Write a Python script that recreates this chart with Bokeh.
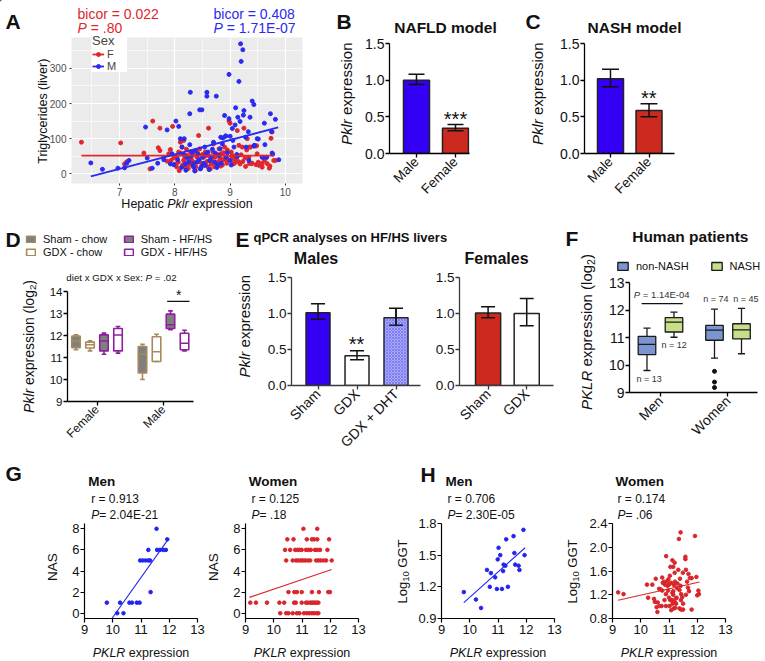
import math
from bokeh.plotting import figure
from bokeh.layouts import row, column
from bokeh.models import (Label, Range1d, FixedTicker, SingleIntervalTicker,
                          Legend, LegendItem, PrintfTickFormatter)
from bokeh.embed import file_html
from bokeh.resources import INLINE
from bokeh.core.validation import silence
from bokeh.core.validation.warnings import MISSING_RENDERERS

silence(MISSING_RENDERERS, True)

FONT = "Liberation Sans"
INK = "#111111"
DY = -3  # baseline calibration (px)

# ---------------------------------------------------------------- data
# Panel A : hepatic Pklr vs liver triglycerides (F = red, M = blue)
a_f_x = [6.31, 7.02, 7.09, 7.13, 7.44, 7.6, 7.73, 7.96, 7.7, 7.73, 7.55, 7.8, 7.86, 7.89, 7.92, 7.93,
         8.01, 8.04, 8.07, 8.1, 8.08, 8.13, 8.16, 8.16, 8.19, 8.22, 8.25, 8.28, 8.31, 8.37, 8.4, 8.43,
         8.45, 8.49, 8.52, 8.55, 8.57, 8.61, 8.64, 8.67, 8.69, 8.7, 8.73, 8.75, 8.8, 8.83, 8.84, 8.87,
         8.9, 8.92, 8.95, 8.98, 9.0, 9.02, 9.05, 9.07, 9.1, 9.13, 9.16, 9.18, 9.2, 9.22, 9.25, 9.28,
         9.3, 9.31, 9.34, 9.37, 9.4, 9.46, 9.49, 9.52, 9.55, 9.58, 9.62, 9.66, 9.72, 9.74, 9.76, 9.79,
         9.82, 9.71, 7.98, 8.03, 8.06, 8.11, 8.14, 8.18, 8.21, 8.24, 8.27, 8.3, 8.33, 8.35, 8.38, 8.41,
         8.44, 8.47, 8.5, 8.53, 8.58, 8.6, 8.63, 8.66, 8.72, 8.77, 8.79, 8.82, 8.86, 8.88, 8.94, 8.97,
         9.03, 9.08, 9.11, 9.15, 9.23, 9.27, 9.35, 9.39, 9.43, 9.47, 9.51, 9.58, 9.67, 9.35, 9.04, 8.91,
         9.48, 9.07]
a_f_y = [90, 88, 28, 34, 59, 150, 130, 135, 74, 66, 14, 47, 36, 57, 69, 38,
         28, 47, 62, 90, 9, 76, 95, 38, 19, 52, 28, 62, 38, 9, 47, 109,
         71, 28, 47, 62, 52, 130, 14, 38, 62, 85, 47, 28, 71, 22, 57, 40,
         76, 47, 68, 150, 144, 62, 28, 43, 38, 123, 81, 28, 54, 76, 130, 21,
         68, 100, 47, 76, 30, 79, 57, 24, 28, 19, 38, 47, 22, 101, 119, 38,
         38, 16, 45, 20, 33, 58, 25, 44, 70, 15, 45, 25, 55, 32, 20, 60,
         35, 15, 55, 25, 35, 20, 50, 28, 20, 55, 35, 45, 25, 60, 30, 40,
         50, 30, 45, 35, 35, 45, 76, 29, 80, 26, 33, 29, 29, 29, 52, 40,
         80, 31]
a_m_x = [6.48, 6.69, 6.97, 7.09, 7.13, 7.17, 7.47, 7.5, 7.59, 7.69, 7.8, 7.86, 7.92, 7.95, 8.02, 8.07,
         7.98, 8.1, 8.13, 8.17, 8.19, 8.22, 8.27, 8.27, 8.28, 8.31, 8.34, 8.37, 8.4, 8.45, 8.49, 8.46,
         8.5, 8.54, 8.55, 8.58, 8.58, 8.6, 8.63, 8.7, 8.75, 8.73, 8.78, 8.82, 8.87, 8.9, 8.93, 8.98,
         8.98, 9.0, 9.04, 9.07, 9.1, 9.13, 9.14, 9.16, 9.19, 9.2, 9.23, 9.25, 9.28, 9.34, 9.4, 9.43,
         9.44, 9.49, 9.61, 9.63, 9.73, 9.76, 9.82, 9.88, 8.05, 8.12, 8.16, 8.2, 8.25, 8.3, 8.33, 8.36,
         8.42, 8.44, 8.48, 8.52, 8.56, 8.62, 8.66, 8.68, 8.72, 8.76, 8.8, 8.84, 8.86, 8.92, 8.95, 9.02,
         9.05, 9.09, 9.12, 9.18, 9.24, 9.29, 9.33, 9.36, 9.43, 9.51, 9.58, 9.62, 9.66, 9.75, 9.77, 8.83,
         8.92, 9.0]
a_m_y = [31, 13, 16, 17, 30, 38, 133, 45, 16, 30, 40, 125, 28, 57, 150, 135,
         26, 100, 76, 100, 28, 47, 83, 171, 232, 62, 19, 66, 33, 182, 182, 14,
         47, 76, 24, 232, 221, 62, 38, 90, 221, 59, 26, 71, 102, 166, 47, 157,
         283, 38, 129, 76, 188, 49, 161, 263, 370, 320, 353, 180, 104, 38, 207, 197,
         81, 100, 47, 83, 171, 59, 155, 40, 40, 18, 55, 10, 35, 50, 28, 8,
         55, 40, 20, 30, 55, 12, 48, 70, 33, 18, 52, 30, 85, 108, 60, 25,
         95, 139, 55, 149, 167, 76, 120, 161, 79, 99, 47, 144, 47, 120, 56, 104,
         107, 107]
a_f_fit_x = [6.31, 9.79]
a_f_fit_y = [52, 52]
a_m_fit_x = [6.48, 9.87]
a_m_fit_y = [-7, 132]

# Panel B / C : Pklr expression, Male vs Female
bc_groups = ["Male", "Female"]
b_mean = [1.0, 0.345]
b_lo = [0.94, 0.31]
b_hi = [1.08, 0.395]
c_mean = [1.02, 0.585]
c_lo = [0.91, 0.50]
c_hi = [1.15, 0.68]

# Panel D : box plots (per group: [Female, Male])
d_cats = ["Female", "Male"]
d_groups = ["Sham - chow", "GDX - chow", "Sham - HF/HS", "GDX - HF/HS"]
d_lo = [[11.35, 10.0], [11.3, 10.82], [11.15, 12.26], [11.2, 11.3]]
d_q1 = [[11.45, 10.3], [11.43, 10.82], [11.3, 12.32], [11.3, 11.35]]
d_med = [[11.75, 11.15], [11.58, 11.26], [11.75, 12.49], [12.02, 11.65]]
d_q3 = [[11.97, 11.5], [11.7, 11.94], [12.03, 12.97], [12.32, 12.1]]
d_hi = [[12.03, 11.6], [11.76, 12.06], [12.11, 13.12], [12.41, 12.24]]
d_sig_y = 13.55

# Panel E : qPCR on HF/HS livers
e_m_groups = ["Sham", "GDX", "GDX + DHT"]
e_m_mean = [1.01, 0.414, 0.942]
e_m_lo = [0.92, 0.359, 0.837]
e_m_hi = [1.135, 0.483, 1.072]
e_f_groups = ["Sham", "GDX"]
e_f_mean = [1.007, 1.0]
e_f_lo = [0.942, 0.83]
e_f_hi = [1.094, 1.21]

# Panel F : human patients (per group: [Men, Women])
f_cats = ["Men", "Women"]
f_groups = ["non-NASH", "NASH"]
f_lo = [[9.8, 10.25], [11.01, 10.41]]
f_q1 = [[10.38, 10.9], [11.2, 10.95]]
f_med = [[10.75, 11.27], [11.56, 11.28]]
f_q3 = [[11.04, 11.44], [11.72, 11.5]]
f_hi = [[11.34, 12.03], [11.92, 12.06]]
f_out_y = [9.77, 9.38, 9.18]
f_sig_y = 12.23

# Panel G : NAS vs PKLR
g_m_x = [9.79, 10.16, 10.26, 10.38, 10.59, 10.68, 10.85, 10.95, 10.97, 11.06, 11.16, 11.26, 11.32,
         11.26, 11.34, 11.55, 11.57, 11.67, 11.79, 11.88, 11.93]
g_m_y = [1, 0, 1, 0, 1, 1, 1, 1, 5, 5, 5, 5, 5, 6, 2, 8, 6, 6, 6, 6, 7]
g_m_fit_x = [9.97, 11.96]
g_m_fit_y = [-0.5, 7.0]
g_w_x = [11.05, 11.54,
         10.48, 10.7, 11.17, 11.35, 11.43, 11.54, 11.96,
         10.4, 10.58, 10.76, 10.84, 10.91, 10.99, 11.14, 11.23, 11.31, 11.46, 11.54, 11.64, 11.9,
         10.44, 10.67, 10.79, 10.87, 10.96, 11.03, 11.11, 11.2, 11.29, 11.5, 11.58, 11.66, 11.76, 11.85, 12.05,
         10.52, 10.73, 10.82, 10.99, 11.35, 11.6, 11.93, 11.99,
         9.17, 9.37, 9.76, 10.2, 10.37, 10.72, 10.78, 10.99, 11.14, 11.2, 11.29, 11.35, 11.4, 11.46, 11.52, 11.58,
         10.23, 10.44, 10.52, 10.67, 10.82, 10.91, 11.07, 11.17, 11.26, 11.35, 11.43, 11.52, 11.58]
g_w_y = [8, 8,
         7, 7, 7, 7, 7, 7, 7,
         6, 6, 6, 6, 6, 6, 6, 6, 6, 6, 6, 6, 6,
         5, 5, 5, 5, 5, 5, 5, 5, 5, 5, 5, 5, 5, 5, 5,
         2, 2, 2, 2, 2, 2, 2, 2,
         1, 1, 1, 1, 1, 1, 1, 1, 1, 1, 1, 1, 1, 1, 1, 1,
         0, 0, 0, 0, 0, 0, 0, 0, 0, 0, 0, 0, 0]
g_w_fit_x = [9.14, 12.05]
g_w_fit_y = [1.5, 4.15]

# Panel H : log10 GGT vs PKLR
h_m_x = [9.79, 10.22, 10.4, 10.61, 10.71, 10.75, 10.9, 10.96, 10.99, 11.02, 11.08, 11.14, 11.18,
         11.2, 11.26, 11.29, 11.35, 11.55, 11.58, 11.61, 11.73, 11.76, 11.9, 11.94]
h_m_y = [1.15, 1.08, 1.0, 1.36, 1.2, 1.33, 1.29, 1.18, 1.46, 1.57, 1.5, 1.18, 1.35,
         1.41, 1.4, 1.65, 1.2, 1.68, 1.52, 1.41, 1.4, 1.36, 1.74, 1.5]
h_m_fit_x = [9.79, 11.96]
h_m_fit_y = [1.05, 1.57]
h_w_x = [9.2, 9.39, 10.26, 10.22, 10.41, 10.47, 10.53, 10.5, 10.56, 10.59, 10.6, 10.7, 10.74, 10.76,
         10.78, 10.82, 10.86, 10.89, 10.9, 10.94, 10.95, 10.97, 11.0, 10.89, 11.02, 11.03, 11.05, 11.08,
         11.1, 11.12, 11.15, 11.17, 11.18, 11.12, 11.2, 11.2, 11.21, 11.25, 11.27, 11.29, 11.35, 11.41,
         11.33, 11.37, 11.39, 11.41, 11.43, 11.47, 11.49, 11.5, 11.58, 11.58, 11.6, 11.64, 11.67, 11.69,
         11.71, 11.74, 11.8, 11.92, 11.97, 12.0, 12.04, 12.06, 11.8, 11.43, 11.22, 11.13, 11.04, 10.84,
         11.2, 11.15, 10.98, 11.08, 11.42, 11.5, 11.24, 11.15, 11.6, 11.37, 11.0, 10.76, 10.65, 10.67, 11.3]
h_w_y = [1.24, 1.21, 1.15, 1.37, 1.37, 1.13, 1.47, 1.08, 0.99, 0.91, 1.07, 1.29, 1.01, 1.49,
         1.40, 1.42, 1.37, 1.21, 1.85, 1.43, 1.35, 1.27, 1.15, 1.01, 1.01, 1.52, 1.67, 0.94,
         1.11, 1.23, 1.26, 0.97, 1.36, 1.78, 1.74, 1.08, 1.42, 1.05, 1.15, 1.31, 2.14, 2.25,
         1.62, 0.97, 1.47, 1.35, 1.21, 1.16, 1.57, 0.95, 1.84, 1.80, 1.62, 1.42, 1.32, 1.55,
         1.26, 1.48, 1.48, 2.19, 1.50, 1.19, 1.27, 1.21, 0.95, 0.95, 0.98, 1.05, 1.11, 1.11,
         1.57, 1.67, 1.46, 1.40, 1.11, 1.05, 1.14, 1.20, 1.20, 1.28, 1.37, 1.27, 1.30, 1.01, 1.39]
h_w_fit_x = [9.2, 12.08]
h_w_fit_y = [1.108, 1.416]

# ---------------------------------------------------------------- colours
RED_A, BLUE_A = "#E0262C", "#2A2AF0"
BLUE_BAR, RED_BAR = "#3300F5", "#CC2A1F"
TAN, PURPLE, GREY = "#A68A5C", "#8E1F9E", "#7F7F7F"
NON_NASH, NASH = "#7C94D0", "#C6DF88"
DOT_BLUE, DOT_RED = "#2424F0", "#D9262B"

# ---------------------------------------------------------------- text widths (Arial metrics)
_W = dict(zip(" !()*+,-./:=", [278, 278, 333, 333, 389, 584, 278, 333, 278, 278, 278, 584]))
_W.update({c: 556 for c in "0123456789"})
_W.update(dict(zip("ABCDEFGHIJKLMNOPQRSTUVWXYZ",
                   [667, 667, 722, 722, 667, 611, 778, 722, 278, 500, 667, 556, 833, 722, 778, 667, 778,
                    722, 667, 611, 722, 667, 944, 667, 667, 611])))
_W.update(dict(zip("abcdefghijklmnopqrstuvwxyz",
                   [556, 556, 500, 556, 556, 278, 556, 556, 222, 222, 500, 222, 833, 556, 556, 556, 556,
                    333, 500, 278, 556, 500, 722, 500, 500, 500])))
_WB = dict(_W)
_WB.update(dict(zip("abcdefghijklmnopqrstuvwxyz",
                    [556, 611, 556, 611, 556, 333, 611, 611, 278, 278, 556, 278, 889, 611, 611, 611, 611,
                     389, 556, 333, 611, 556, 778, 556, 556, 500])))
_WB.update(dict(zip("ABCDEFGHIJKLMNOPQRSTUVWXYZ",
                    [722, 722, 722, 722, 667, 611, 778, 722, 278, 556, 722, 611, 833, 722, 778, 667, 778,
                     722, 667, 611, 722, 667, 944, 667, 667, 611])))
_WB[":"] = 333


def text_w(s, size, bold=False):
    tab = _WB if bold else _W
    return sum(tab.get(c, 556) for c in s) / 1000.0 * size


# ---------------------------------------------------------------- panels
class Panel:
    def __init__(self, box, frame, xr, yr):
        bl, bt, br, bb = box
        fl, ft, fr, fb = frame
        self.p = figure(x_range=Range1d(*xr), y_range=Range1d(*yr),
                        frame_width=fr - fl, frame_height=fb - ft,
                        min_border_left=fl - bl, min_border_right=br - fr,
                        min_border_top=ft - bt, min_border_bottom=bb - fb,
                        output_backend="svg", toolbar_location=None)
        self.p.outline_line_color = None
        self.p.grid.visible = False


def prism(P, fs, color="#000000", lw=1.3):
    for ax in P.p.axis:
        ax.axis_line_color = color
        ax.axis_line_width = lw
        ax.major_tick_line_color = color
        ax.major_tick_line_width = lw
        ax.major_tick_out = 4
        ax.major_tick_in = 0
        ax.minor_tick_line_color = None
        ax.major_label_text_font = FONT
        ax.major_label_text_font_size = f"{fs}px"
        ax.major_label_text_color = INK
    P.p.yaxis.major_label_standoff = 1
    P.p.xaxis.major_label_standoff = 2


def cat_axis(P, labels, fs):
    P.p.xaxis.ticker = FixedTicker(ticks=list(range(len(labels))))
    P.p.xaxis.major_label_overrides = {i: lab for i, lab in enumerate(labels)}
    P.p.xaxis.major_label_orientation = math.pi / 4
    P.p.xaxis.major_label_text_font_size = f"{fs}px"


def bar_y(P, ticks):
    P.p.yaxis.ticker = FixedTicker(ticks=ticks)
    P.p.yaxis.formatter = PrintfTickFormatter(format="%.1f")


def bars(P, means, lo, hi, fills, width, cap):
    xs = list(range(len(means)))
    P.p.vbar(x=xs, top=means, bottom=0, width=width, fill_color=fills,
             line_color="#222222", line_width=1.5)
    P.p.segment(x0=xs, y0=lo, x1=xs, y1=hi, line_color=INK, line_width=1.5)
    P.p.segment(x0=[x - cap for x in xs], y0=hi, x1=[x + cap for x in xs], y1=hi,
                line_color=INK, line_width=1.5)
    P.p.segment(x0=[x - cap for x in xs], y0=lo, x1=[x + cap for x in xs], y1=lo,
                line_color=INK, line_width=1.5)


def boxes(P, xs, lo, q1, med, q3, hi, width, cap, fill, line, lw):
    r = P.p.vbar(x=xs, bottom=q1, top=q3, width=width, fill_color=fill, line_color=line, line_width=lw)
    P.p.segment(x0=xs, y0=q3, x1=xs, y1=hi, line_color=line, line_width=lw)
    P.p.segment(x0=xs, y0=q1, x1=xs, y1=lo, line_color=line, line_width=lw)
    P.p.segment(x0=[x - cap for x in xs], y0=hi, x1=[x + cap for x in xs], y1=hi, line_color=line, line_width=lw)
    P.p.segment(x0=[x - cap for x in xs], y0=lo, x1=[x + cap for x in xs], y1=lo, line_color=line, line_width=lw)
    P.p.segment(x0=[x - width / 2 for x in xs], y0=med, x1=[x + width / 2 for x in xs], y1=med,
                line_color=line, line_width=lw)
    return r


# ================================================================ ROW 1
A = Panel((0, 0, 332, 213), (71, 37, 302, 183), (6.13, 10.31), (-27.6, 388))
pa = A.p
pa.background_fill_color = "#EBEBEB"
pa.xaxis.ticker = SingleIntervalTicker(interval=1, num_minor_ticks=2)
pa.yaxis.ticker = SingleIntervalTicker(interval=100, num_minor_ticks=2)
pa.grid.visible = True
for g in pa.grid:
    g.grid_line_color = "white"
    g.grid_line_width = 1.2
    g.minor_grid_line_color = "white"
    g.minor_grid_line_width = 0.6
for ax in pa.axis:
    ax.axis_line_color = None
    ax.major_tick_line_color = "#333333"
    ax.major_tick_out = 2
    ax.major_tick_in = 0
    ax.minor_tick_line_color = None
    ax.major_label_text_font = FONT
    ax.major_label_text_font_size = "10px"
    ax.major_label_text_color = "#4D4D4D"
pa.yaxis.major_label_standoff = 1
pa.xaxis.major_label_standoff = 0
pa.scatter(a_f_x, a_f_y, size=4, color=RED_A, marker="circle")
pa.scatter(a_m_x, a_m_y, size=4, color=BLUE_A, marker="circle")
pa.line(a_f_fit_x, a_f_fit_y, line_color=RED_A, line_width=1.8)
pa.line(a_m_fit_x, a_m_fit_y, line_color=BLUE_A, line_width=1.8)

B = Panel((332, 0, 527, 213), (389, 43, 469, 153), (-0.692, 1.359), (0, 1.5))
prism(B, 14)
bar_y(B, [0, 0.5, 1.0, 1.5])
cat_axis(B, bc_groups, 13.5)
bars(B, b_mean, b_lo, b_hi, [BLUE_BAR, RED_BAR], 0.667, 0.205)

C = Panel((527, 0, 765, 213), (584, 43, 674, 153), (-0.675, 1.662), (0, 1.5))
prism(C, 14)
bar_y(C, [0, 0.5, 1.0, 1.5])
cat_axis(C, bc_groups, 13.5)
bars(C, c_mean, c_lo, c_hi, [BLUE_BAR, RED_BAR], 0.675, 0.22)

# ================================================================ ROW 2
D = Panel((0, 213, 232, 458), (67, 291, 193, 401), (-0.4436, 1.451), (9, 14))
prism(D, 11.5)
D.p.yaxis.ticker = FixedTicker(ticks=[9, 10, 11, 12, 13, 14])
cat_axis(D, d_cats, 12)
d_off = [-0.316, -0.105, 0.105, 0.316]
d_line = [TAN, TAN, PURPLE, PURPLE]
d_fill = [GREY, "white", GREY, "white"]
for gi in range(4):
    xs = [c + d_off[gi] for c in range(len(d_cats))]
    boxes(D, xs, d_lo[gi], d_q1[gi], d_med[gi], d_q3[gi], d_hi[gi],
          0.128, 0.035, d_fill[gi], d_line[gi], 1.6)
D.p.segment(x0=[1 + d_off[2] - 0.05], y0=[d_sig_y], x1=[1 + d_off[3] + 0.075], y1=[d_sig_y],
            line_color=INK, line_width=1.3)

Em = Panel((232, 213, 428, 458), (291, 277, 420, 385), (-0.68, 2.628), (0, 1.5))
prism(Em, 13.5, color="#3A3A3A")
bar_y(Em, [0, 0.5, 1.0, 1.5])
cat_axis(Em, e_m_groups, 14)
bars(Em, e_m_mean, e_m_lo, e_m_hi, [BLUE_BAR, "white", "#A9A9F7"], 0.615, 0.18)
Em.p.vbar(x=[2], top=[e_m_mean[2]], bottom=0, width=0.615, fill_alpha=0, line_color=None,
          hatch_pattern="diagonal_cross", hatch_color="#3B3BF2", hatch_alpha=0.55,
          hatch_scale=3, hatch_weight=0.7)
Em.p.segment(x0=[2], y0=[e_m_lo[2]], x1=[2], y1=[e_m_hi[2]], line_color=INK, line_width=1.5)

Ef = Panel((428, 213, 563, 458), (459, 277, 553, 385), (-0.74, 1.693), (0, 1.5))
prism(Ef, 13.5, color="#3A3A3A")
bar_y(Ef, [0, 0.5, 1.0, 1.5])
cat_axis(Ef, e_f_groups, 14)
bars(Ef, e_f_mean, e_f_lo, e_f_hi, [RED_BAR, "white"], 0.65, 0.18)

F = Panel((563, 213, 765, 458), (629, 282, 757, 392), (-0.459, 1.437), (9, 13))
prism(F, 14)
F.p.yaxis.ticker = FixedTicker(ticks=[9, 10, 11, 12, 13])
cat_axis(F, f_cats, 14)
f_off = [-0.2, 0.2]
f_fill = [NON_NASH, NASH]
for gi in range(2):
    xs = [c + f_off[gi] for c in range(len(f_cats))]
    boxes(F, xs, f_lo[gi], f_q1[gi], f_med[gi], f_q3[gi], f_hi[gi],
          0.26, 0.052, f_fill[gi], "#1A1A1A", 1.3)
F.p.scatter([1 + f_off[0]] * len(f_out_y), f_out_y, size=4, color="#111111", marker="circle")
F.p.segment(x0=[-0.28], y0=[f_sig_y], x1=[0.33], y1=[f_sig_y], line_color=INK, line_width=1.2)


# ================================================================ ROW 3
def scatter_panel(box, frame, yr, yticks, xs, ys, fx, fy, col, fmt=None):
    P = Panel(box, frame, (9, 13), yr)
    prism(P, 13, lw=1.2)
    P.p.xaxis.ticker = FixedTicker(ticks=[9, 10, 11, 12, 13])
    P.p.yaxis.ticker = FixedTicker(ticks=yticks)
    if fmt:
        P.p.yaxis.formatter = PrintfTickFormatter(format=fmt)
    P.p.scatter(xs, ys, size=3.6, color=col, marker="circle")
    P.p.line(fx, fy, line_color=col, line_width=1.1)
    return P


Gm = scatter_panel((0, 458, 205, 661), (84, 523, 197, 618), (-0.5, 8.5), [0, 2, 4, 6, 8],
                   g_m_x, g_m_y, g_m_fit_x, g_m_fit_y, DOT_BLUE)
Gw = scatter_panel((205, 458, 385, 661), (245, 523, 358, 618), (-0.5, 8.5), [0, 2, 4, 6, 8],
                   g_w_x, g_w_y, g_w_fit_x, g_w_fit_y, DOT_RED)
Hm = scatter_panel((385, 458, 562, 661), (441, 523, 554, 618), (0.9, 1.8), [0.9, 1.2, 1.5, 1.8],
                   h_m_x, h_m_y, h_m_fit_x, h_m_fit_y, DOT_BLUE, "%.1f")
Hw = scatter_panel((562, 458, 765, 661), (612, 523, 725, 618), (0.8, 2.4), [0.8, 1.2, 1.6, 2.0, 2.4],
                   h_w_x, h_w_y, h_w_fit_x, h_w_fit_y, DOT_RED, "%.1f")

# ================================================================ text overlay (page coordinates)
T = figure(x_range=Range1d(0, 765), y_range=Range1d(661, 0), frame_width=765, frame_height=661,
           min_border=0, x_axis_location=None, y_axis_location=None,
           output_backend="svg", toolbar_location=None)
T.background_fill_alpha = 0
T.border_fill_alpha = 0
T.outline_line_color = None
T.grid.visible = False
T.margin = (-661, 0, 0, 0)

OFF = [-500.0, -490.0]  # legend-key renderers sit outside the visible page


def lab(x, y, text, size, color=INK, style="normal", align="left", baseline="alphabetic", angle=0.0):
    dy = DY if (baseline == "alphabetic" and angle == 0.0) else 0
    T.add_layout(Label(x=x, y=y + dy, text=text, text_font=FONT, text_font_size=f"{size}px",
                       text_color=color, text_font_style=style, text_align=align,
                       text_baseline=baseline, angle=angle))


def rich(x, y, segs, align="left", rotated=False, color=INK, baseline="alphabetic"):
    ws = [text_w(t, s, "bold" in st) for (t, s, st, sh) in segs]
    off = -sum(ws) / 2 if align == "center" else 0.0
    for (t, s, st, sh), w in zip(segs, ws):
        lead = len(t) - len(t.lstrip(" "))
        core = t.strip(" ")
        o = off + lead * 0.278 * s
        if core:
            if rotated:
                lab(x + sh, y - o, core, s, color, st, "left", baseline, math.pi / 2)
            else:
                lab(x + o, y + sh, core, s, color, st, "left", baseline)
        off += w


def ylab_pklr(cx, cy, size, word="Pklr", sub=False):
    segs = [(word, size, "italic", 0), (" expression" + (" (log" if sub else ""), size, "normal", 0)]
    if sub:
        segs += [("2", size * 0.7, "normal", size * 0.3), (")", size, "normal", 0)]
    rich(cx, cy, segs, align="center", rotated=True, baseline="middle")


def key_box(fill, line, lw):
    return T.vbar(x=[OFF[0]], top=[OFF[0]], bottom=[OFF[1]], width=1, fill_color=fill,
                  line_color=line, line_width=lw)


# --- panel letters
for L, x, y in [("A", 5, 24), ("B", 336, 24), ("C", 525, 24), ("D", 5, 242), ("E", 235, 242),
                ("F", 565, 241), ("G", 5, 476), ("H", 420, 477)]:
    lab(x, y, L, 21, style="bold")

# --- A
lab(77, 16, "bicor = 0.022", 14, color=RED_A)
rich(77, 30, [("P", 14, "italic", 0), (" = .80", 14, "normal", 0)], color=RED_A)
lab(213, 16, "bicor = 0.408", 14, color=BLUE_A)
rich(213, 30, [("P", 14, "italic", 0), (" = 1.71E-07", 14, "normal", 0)], color=BLUE_A)
lab(42.7, 110.7, "Triglycerides (liver)", 12.5, align="center", baseline="middle", angle=math.pi / 2)
rich(186.5, 206, [("Hepatic ", 12.5, "normal", 0), ("Pklr", 12.5, "italic", 0),
                  (" expression", 12.5, "normal", 0)], align="center")
la_f = T.line(x=OFF, y=OFF, line_color=RED_A, line_width=1.8)
sa_f = T.scatter(x=OFF, y=OFF, size=4, color=RED_A, marker="circle")
la_m = T.line(x=OFF, y=OFF, line_color=BLUE_A, line_width=1.8)
sa_m = T.scatter(x=OFF, y=OFF, size=4, color=BLUE_A, marker="circle")
T.add_layout(Legend(items=[LegendItem(label="F", renderers=[la_f, sa_f]),
                           LegendItem(label="M", renderers=[la_m, sa_m])],
                    location=(92, 661 - 72), title="Sex", title_text_font=FONT,
                    title_text_font_size="13px", title_text_font_style="normal", title_standoff=0,
                    label_text_font=FONT, label_text_font_size="11px", glyph_width=12, glyph_height=10,
                    label_height=10, label_standoff=3, spacing=0, padding=2, margin=0,
                    border_line_color=None, background_fill_color="white", background_fill_alpha=1.0))

# --- B, C
lab(445, 30, "NAFLD model", 15.5, style="bold", align="center")
ylab_pklr(346, 93.3, 15)
lab(455, 121, "***", 20, align="center")
lab(634, 30, "NASH model", 15.5, style="bold", align="center")
ylab_pklr(537, 93.3, 15)
lab(648.3, 100, "**", 20, align="center")

# --- D
rich(121, 280, [("diet x GDX x Sex: ", 9.7, "normal", 0), ("P", 9.7, "italic", 0),
                (" = .02", 9.7, "normal", 0)], align="center")
ylab_pklr(28, 346, 14, sub=True)
lab(178.3, 297, "*", 14, align="center")
d_keys = [key_box(d_fill[k], d_line[k], 1.6) for k in range(4)]
for k, lx in enumerate([25, 122.7]):
    T.add_layout(Legend(items=[LegendItem(label=d_groups[2 * k], renderers=[d_keys[2 * k]]),
                               LegendItem(label=d_groups[2 * k + 1], renderers=[d_keys[2 * k + 1]])],
                        location=(lx, 661 - 258), glyph_width=11, glyph_height=8, label_standoff=7,
                        spacing=1, padding=0, margin=0, label_height=10, label_text_font=FONT,
                        label_text_font_size="11px", label_text_color=INK, border_line_color=None,
                        background_fill_alpha=0))

# --- E
lab(253, 239.5, "qPCR analyses on HF/HS livers", 13, style="bold")
lab(293.3, 260.7, "Males", 16, style="bold")
lab(464, 260.7, "Females", 16, style="bold")
ylab_pklr(244, 325.7, 15)
lab(356, 346.5, "**", 20, align="center")

# --- F
lab(631.7, 239.3, "Human patients", 15.5, style="bold")
ylab_pklr(586, 331.5, 15, word="PKLR", sub=True)
rich(633.3, 296.7, [("P", 9.5, "italic", 0), (" = 1.14E-04", 9.5, "normal", 0)], color="#333333")
for t, x, y in [("n = 13", 636, 381.7), ("n = 12", 661, 347.7), ("n = 74", 702.7, 301.7),
                ("n = 45", 732.7, 301.7)]:
    lab(x, y, t, 9, color="#333333")
f_keys = [key_box(f_fill[k], "#1A1A1A", 1.3) for k in range(2)]
T.add_layout(Legend(items=[LegendItem(label=f_groups[0], renderers=[f_keys[0]]),
                           LegendItem(label=f_groups[1], renderers=[f_keys[1]])],
                    location=(616, 661 - 272), orientation="horizontal", glyph_width=13, glyph_height=10,
                    label_standoff=7, spacing=21, padding=0, margin=0, label_height=10,
                    label_text_font=FONT, label_text_font_size="11px", label_text_color=INK,
                    border_line_color=None, background_fill_alpha=0))

# --- G, H
for tl, title, xl, rtxt, ptxt in [(87.7, "Men", 90.7, "r = 0.913", "= 2.04E-21"),
                                  (248.3, "Women", 251, "r = 0.125", "= .18"),
                                  (445, "Men", 447, "r = 0.706", "= 2.30E-05"),
                                  (615, "Women", 617, "r = 0.174", "= .06")]:
    lab(tl, 484.3, title, 13.5, style="bold")
    lab(xl, 501.7, rtxt, 12)
    rich(xl, 517.3, [("P", 12, "italic", 0), (ptxt, 12, "normal", 0)])
for cx in [140.5, 301.5, 497.5, 668.5]:
    rich(cx, 655, [("PKLR", 12.5, "italic", 0), (" expression", 12.5, "normal", 0)], align="center")
lab(52.3, 566.7, "NAS", 13.5, align="center", baseline="middle", angle=math.pi / 2)
lab(213.3, 566.7, "NAS", 13.5, align="center", baseline="middle", angle=math.pi / 2)
for cx in [401.7, 571.7]:
    rich(cx, 571, [("Log", 13, "normal", 0), ("10", 9.5, "normal", 3.5), (" GGT", 13, "normal", 0)],
         align="center", rotated=True, baseline="middle")

# ================================================================ layout
col = lambda f: column(f.p)
layout = column(row(col(A), col(B), col(C)),
                row(col(D), col(Em), col(Ef), col(F)),
                row(col(Gm), col(Gw), col(Hm), col(Hw)),
                T)

with open("out.html", "w") as fh:
    fh.write(file_html(layout, INLINE))
